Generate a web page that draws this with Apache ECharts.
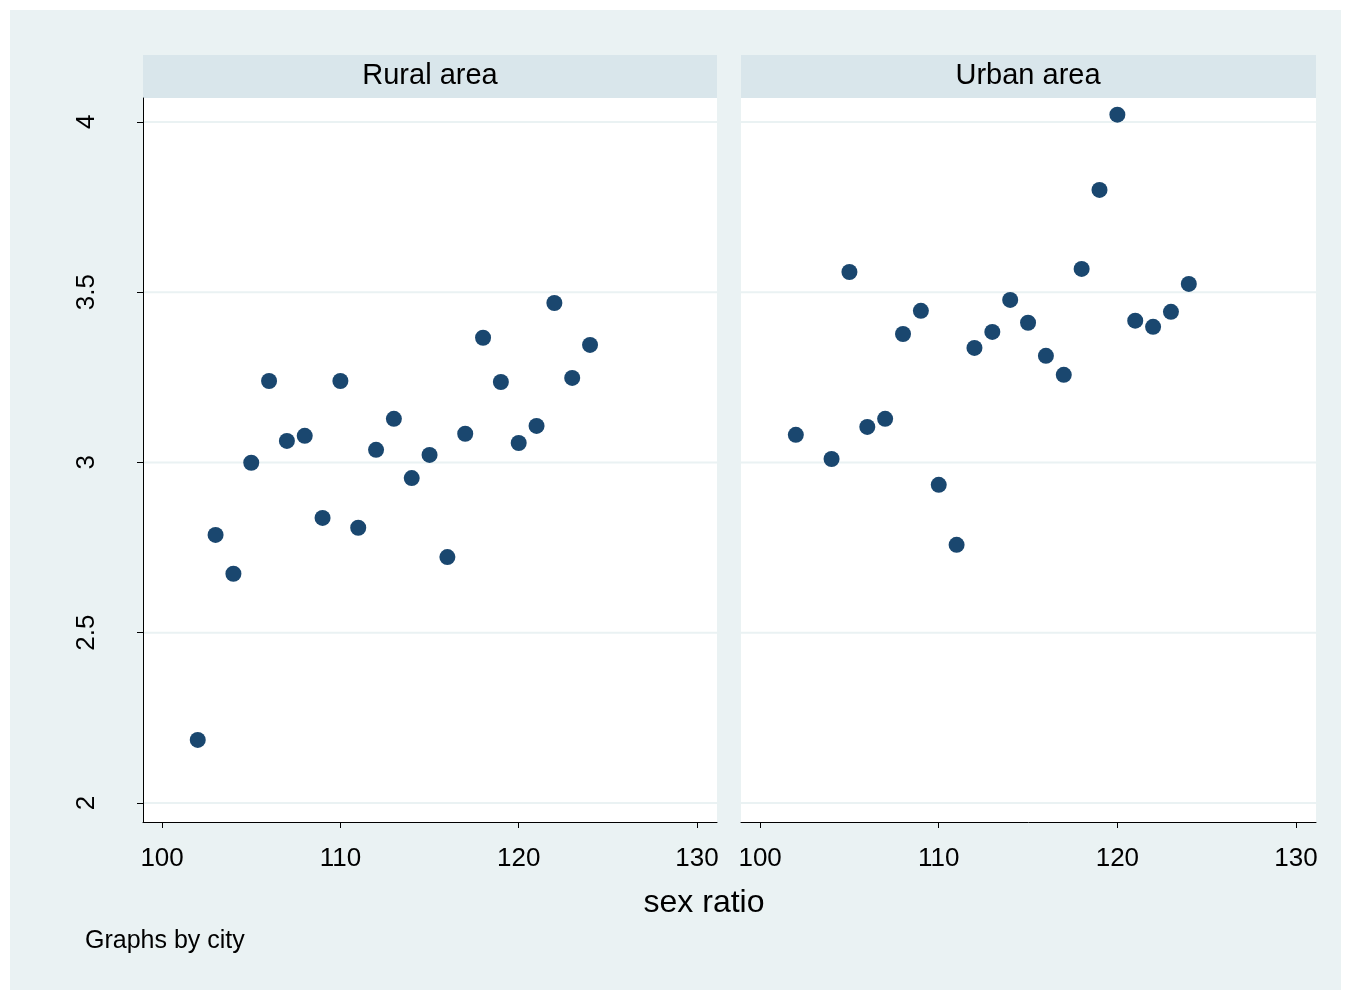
<!DOCTYPE html>
<html>
<head>
<script src="https://cdn.jsdelivr.net/npm/echarts@6/dist/echarts.min.js"></script>
<style>
html, body { margin: 0; padding: 0; background: #fff; }
#chart { width: 1351px; height: 991px; }
</style>
</head>
<body>
<div id="chart"></div>
<script>
var ruralX = [102, 103, 104, 105, 106, 107, 108, 109, 110, 111, 112, 113, 114, 115, 116, 117, 118, 119, 120, 121, 122, 123, 124];
var ruralY = [2.185, 2.787, 2.673, 2.999, 3.239, 3.063, 3.078, 2.837, 3.239, 2.808, 3.037, 3.128, 2.954, 3.022, 2.722, 3.084, 3.366, 3.236, 3.057, 3.107, 3.468, 3.248, 3.345];
var urbanX = [102, 104, 105, 106, 107, 108, 109, 110, 111, 112, 113, 114, 115, 116, 117, 118, 119, 120, 121, 122, 123, 124];
var urbanY = [3.081, 3.010, 3.559, 3.104, 3.128, 3.377, 3.445, 2.934, 2.758, 3.336, 3.383, 3.477, 3.410, 3.313, 3.257, 3.568, 3.800, 4.021, 3.416, 3.398, 3.442, 3.524];
var panelTitles = ['Rural area', 'Urban area'];
var xTicks = [100, 110, 120, 130];
var yTicks = [2, 2.5, 3, 3.5, 4];

function pairs(xs, ys) { return xs.map(function (x, i) { return [x, ys[i]]; }); }

var font = 'Liberation Sans, Arial, sans-serif';
var chart = echarts.init(document.getElementById('chart'));

function xAxis(idx) {
    return {
        gridIndex: idx, type: 'value', min: 98.93, max: 131.12,
        axisLine: { show: true, onZero: false, lineStyle: { color: '#000' } },
        axisTick: { show: true, length: 6, customValues: xTicks, lineStyle: { color: '#000' } },
        axisLabel: { color: '#000', fontSize: 26, fontFamily: font, margin: 14, customValues: xTicks },
        splitLine: { show: false }
    };
}
function yAxis(idx, show) {
    return {
        gridIndex: idx, type: 'value', min: 1.944, max: 4.07,
        axisLine: { show: show, onZero: false, lineStyle: { color: '#000' } },
        axisTick: { show: show, length: 6, customValues: yTicks, lineStyle: { color: '#000' } },
        axisLabel: { show: show, color: '#000', fontSize: 26, fontFamily: font, rotate: 90, margin: 34,
            customValues: yTicks },
        splitLine: { show: false }
    };
}

var graphics = [
    { type: 'rect', shape: { x: 10, y: 10, width: 1331, height: 980 }, style: { fill: '#eaf2f3' }, z: -10 },
    { type: 'rect', shape: { x: 143, y: 55, width: 574, height: 767 }, style: { fill: '#fff' }, z: -5 },
    { type: 'rect', shape: { x: 741, y: 55, width: 575, height: 767 }, style: { fill: '#fff' }, z: -5 },
    { type: 'rect', shape: { x: 143, y: 55, width: 574, height: 43 }, style: { fill: '#d9e6eb' }, z: -4 },
    { type: 'rect', shape: { x: 741, y: 55, width: 575, height: 43 }, style: { fill: '#d9e6eb' }, z: -4 },
    { type: 'text', x: 430, y: 76, style: { text: panelTitles[0], font: '29px ' + font, fill: '#000', align: 'center', verticalAlign: 'middle' } },
    { type: 'text', x: 1028, y: 76, style: { text: panelTitles[1], font: '29px ' + font, fill: '#000', align: 'center', verticalAlign: 'middle' } },
    { type: 'text', x: 704, y: 903, style: { text: 'sex ratio', font: '32px ' + font, fill: '#000', align: 'center', verticalAlign: 'middle' } },
    { type: 'text', x: 85, y: 941, style: { text: 'Graphs by city', font: '25px ' + font, fill: '#000', align: 'left', verticalAlign: 'middle' } }
];
// horizontal gridlines
[0, 1].forEach(function (p) {
    var x0 = p ? 741 : 143, w = p ? 575 : 574;
    yTicks.forEach(function (t) {
        var y = 803 - (t - 2) * 340.5;
        graphics.push({ type: 'line', shape: { x1: x0, y1: y, x2: x0 + w, y2: y }, style: { stroke: '#eaf2f3', lineWidth: 2 }, z: -3 });
    });
});

chart.setOption({
    animation: false,
    graphic: graphics,
    grid: [
        { left: 143, top: 98, width: 574, height: 724 },
        { left: 741, top: 98, width: 575, height: 724 }
    ],
    xAxis: [xAxis(0), xAxis(1)],
    yAxis: [yAxis(0, true), yAxis(1, false)],
    series: [
        { type: 'scatter', xAxisIndex: 0, yAxisIndex: 0, data: pairs(ruralX, ruralY), symbolSize: 16,
          itemStyle: { color: '#1a476f', opacity: 1 } },
        { type: 'scatter', xAxisIndex: 1, yAxisIndex: 1, data: pairs(urbanX, urbanY), symbolSize: 16,
          itemStyle: { color: '#1a476f', opacity: 1 } }
    ]
});
</script>
</body>
</html>
